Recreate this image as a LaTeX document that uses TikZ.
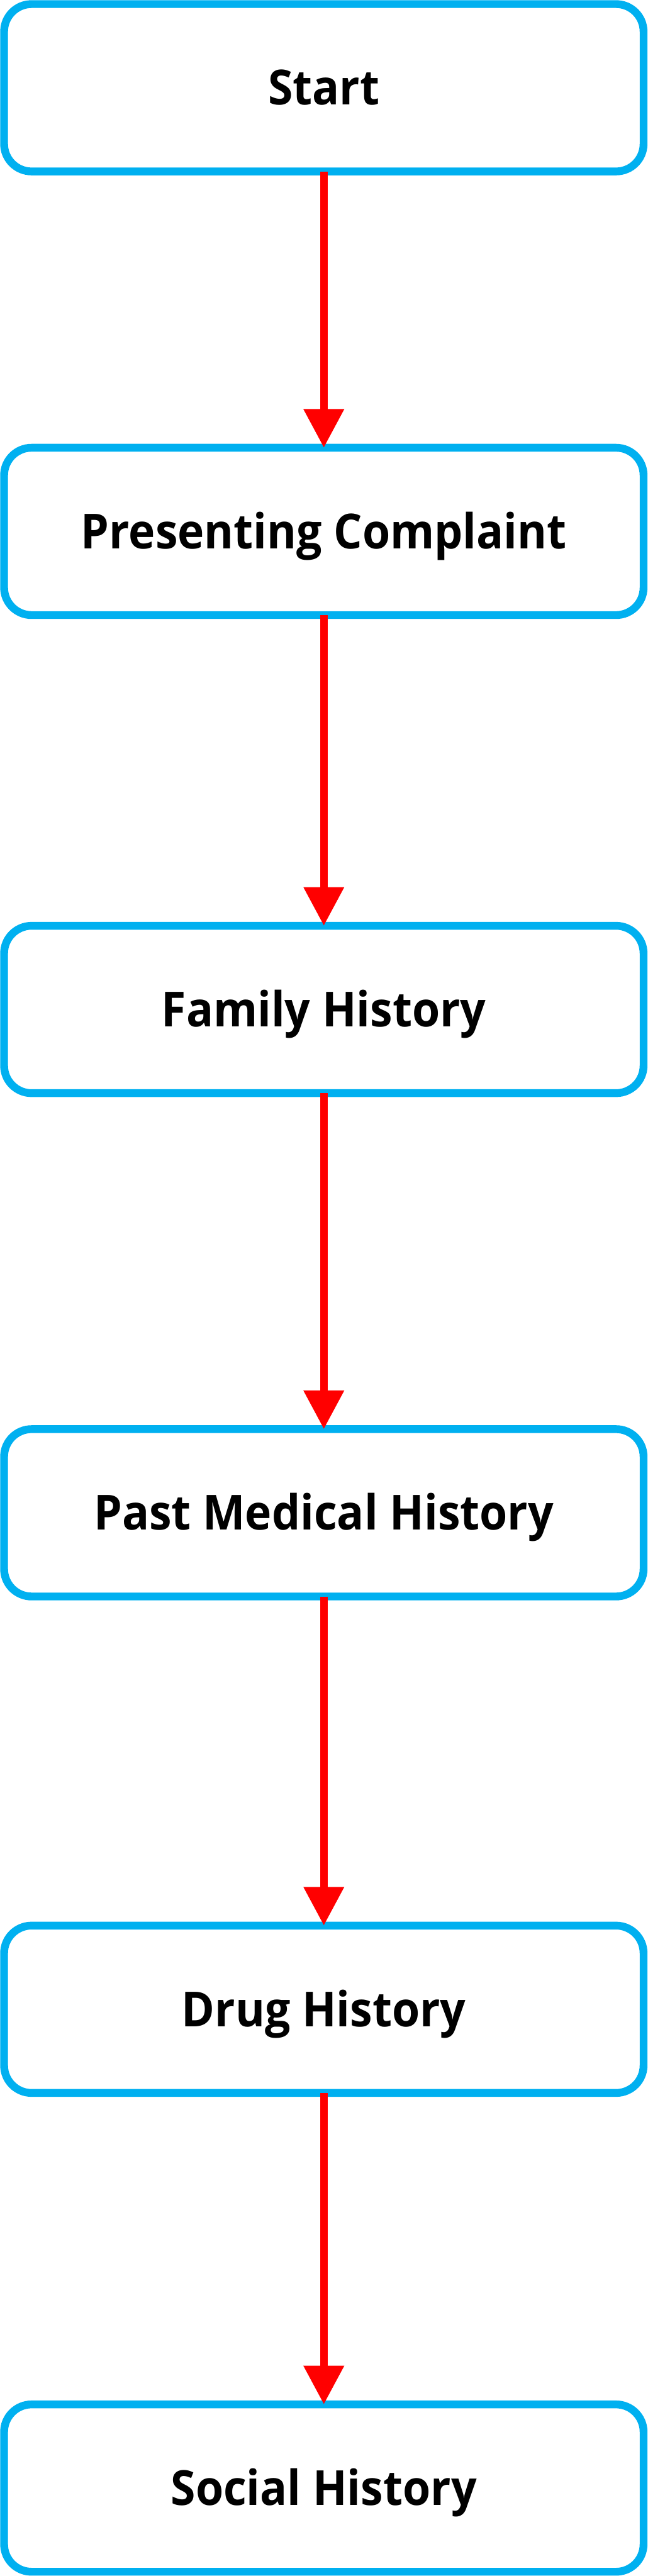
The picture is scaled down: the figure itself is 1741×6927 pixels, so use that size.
\documentclass[tikz,border=0pt]{standalone}
\usepackage{fontspec}
\setmainfont{Open Sans}[BoldFont={* Bold}, BoldFeatures={FakeStretch=0.93}]
\usetikzlibrary{arrows.meta}
\definecolor{boxblue}{HTML}{00B0F0}
\definecolor{arrred}{HTML}{FF0000}
\begin{document}
\begin{tikzpicture}[x=0.25pt,y=-0.25pt,
  stepbox/.style={draw=boxblue, line width=5.25pt, fill=white, rounded corners=18.5pt,
    minimum width=429.75pt, minimum height=112.5pt, inner sep=0pt, outer sep=0pt,
    font=\fontsize{32.5pt}{39pt}\selectfont\bfseries, text height=23.2pt, text depth=0pt},
  flow/.style={draw=arrred, line width=5.25pt, -{Triangle[width=26pt,length=26pt]}}]
\useasboundingbox (0,0) rectangle (1741,6927);
\node[stepbox] (start) at (870.5,236) {Start};
\node[stepbox] (pc) at (870.5,1429) {Presenting Complaint};
\node[stepbox] (fh) at (870.5,2714.5) {Family History};
\node[stepbox] (pmh) at (870.5,4068) {Past Medical History};
\node[stepbox] (dh) at (870.5,5403) {Drug History};
\node[stepbox] (sh) at (870.5,6690.5) {Social History};
\draw[flow] (start.south) -- (pc.north);
\draw[flow] (pc.south) -- (fh.north);
\draw[flow] (fh.south) -- (pmh.north);
\draw[flow] (pmh.south) -- (dh.north);
\draw[flow] (dh.south) -- (sh.north);
\end{tikzpicture}
\end{document}
